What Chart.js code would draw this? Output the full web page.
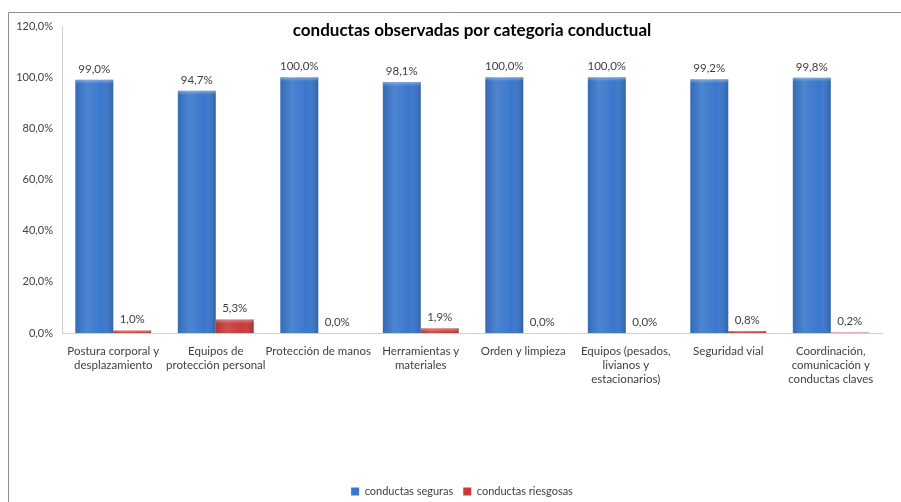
<!DOCTYPE html>
<html>
<head>
<meta charset="utf-8">
<script src="https://cdn.jsdelivr.net/npm/chart.js@4.4.1/dist/chart.umd.min.js"></script>
<style>
  html, body { margin: 0; padding: 0; background: #ffffff; }
  #wrap { width: 901px; height: 502px; position: relative; }
</style>
</head>
<body>
<div id="wrap"><canvas id="chart" width="901" height="502"></canvas></div>
<script>
// Categories and series values (percent)
const categories = [
  ["Postura corporal y", "desplazamiento"],
  ["Equipos de", "protección personal"],
  ["Protección de manos"],
  ["Herramientas y", "materiales"],
  ["Orden y limpieza"],
  ["Equipos (pesados,", "livianos y", "estacionarios)"],
  ["Seguridad vial"],
  ["Coordinación,", "comunicación y", "conductas claves"]
];
const seguras = [99.0, 94.7, 100.0, 98.1, 100.0, 100.0, 99.2, 99.8];
const riesgosas = [1.0, 5.3, 0.0, 1.9, 0.0, 0.0, 0.8, 0.2];
const seriesNames = ["conductas seguras", "conductas riesgosas"];
const chartTitle = "conductas observadas por categoria conductual";

const FONT = "Lato, 'Open Sans', sans-serif";
const TEXT = "#404040";

const fmt = v => v.toFixed(1).replace(".", ",") + "%";

// Outer frame of the chart object
const framePlugin = {
  id: "frame",
  beforeDraw(chart) {
    const c = chart.ctx;
    c.save();
    c.strokeStyle = "#8f8f8f";
    c.lineWidth = 1;
    c.beginPath();
    c.moveTo(8.5, 502);
    c.lineTo(8.5, 12.5);
    c.lineTo(901, 12.5);
    c.stroke();
    c.restore();
  }
};

// Nudge the legend right of the canvas centre and close to the bottom edge
const legendShift = {
  id: "legendShift",
  afterLayout(chart) {
    const lg = chart.legend;
    if (lg) {
      lg.left += 21;
      lg.right += 21;
      lg.top += 5;
      lg.bottom += 5;
    }
  }
};

// Title drawn over the top of the plot area
const titlePlugin = {
  id: "overTitle",
  afterDraw(chart) {
    const c = chart.ctx;
    const a = chart.chartArea;
    c.save();
    c.font = "bold 17px " + FONT;
    c.fillStyle = "#000000";
    c.textAlign = "center";
    c.textBaseline = "middle";
    c.fillText(chartTitle, (a.left + a.right) / 2, 31);
    c.restore();
  }
};

// Soft shading across each bar plus value labels above
const barDecor = {
  id: "barDecor",
  afterDatasetsDraw(chart) {
    const c = chart.ctx;
    chart.data.datasets.forEach((ds, di) => {
      const meta = chart.getDatasetMeta(di);
      meta.data.forEach((bar, i) => {
        const left = bar.x - bar.width / 2;
        const h = bar.base - bar.y;
        if (h > 0.5) {
          const g = c.createLinearGradient(left, 0, left + bar.width, 0);
          g.addColorStop(0, "rgba(0,0,0,0.10)");
          g.addColorStop(0.3, "rgba(255,255,255,0.10)");
          g.addColorStop(0.7, "rgba(255,255,255,0.0)");
          g.addColorStop(1, "rgba(0,0,0,0.18)");
          c.save();
          c.fillStyle = g;
          c.fillRect(left, bar.y, bar.width, h);
          const tg = c.createLinearGradient(0, bar.y, 0, bar.y + Math.min(4, h));
          tg.addColorStop(0, "rgba(255,255,255,0.35)");
          tg.addColorStop(1, "rgba(255,255,255,0)");
          c.fillStyle = tg;
          c.fillRect(left, bar.y, bar.width, Math.min(4, h));
          c.restore();
        }
        c.save();
        c.font = "11.5px " + FONT;
        c.fillStyle = TEXT;
        c.textAlign = "center";
        c.textBaseline = "bottom";
        c.fillText(fmt(ds.data[i]), bar.x, bar.y - 5);
        c.restore();
      });
    });
  }
};

new Chart(document.getElementById("chart"), {
  type: "bar",
  data: {
    labels: categories,
    datasets: [
      { label: seriesNames[0], data: seguras, backgroundColor: "#3a77cc", borderWidth: 0 },
      { label: seriesNames[1], data: riesgosas, backgroundColor: "#c93b3b", borderWidth: 0 }
    ]
  },
  options: {
    responsive: false,
    animation: false,
    devicePixelRatio: 1,
    layout: { padding: { left: 0, right: 19, top: 26, bottom: 0 } },
    datasets: { bar: { categoryPercentage: 0.74, barPercentage: 1.0 } },
    scales: {
      x: {
        grid: { display: false },
        border: { display: true, color: "#d0d0d0" },
        ticks: {
          color: TEXT, font: { family: FONT, size: 11.5, lineHeight: 1.18 },
          maxRotation: 0, autoSkip: false, padding: 4
        },
        afterFit(s) { s.height = 138; }
      },
      y: {
        min: 0, max: 120,
        grid: { display: false },
        border: { display: true, color: "#d0d0d0" },
        ticks: {
          stepSize: 20, color: TEXT, font: { family: FONT, size: 11 },
          padding: 1, callback: v => fmt(v)
        },
        afterFit(s) { s.width = 62; }
      }
    },
    plugins: {
      legend: {
        position: "bottom",
        labels: {
          color: TEXT, font: { family: FONT, size: 11 },
          boxWidth: 8, boxHeight: 8, padding: 10
        }
      },
      tooltip: { enabled: false },
      title: { display: false }
    }
  },
  plugins: [framePlugin, legendShift, titlePlugin, barDecor]
});
</script>
</body>
</html>
